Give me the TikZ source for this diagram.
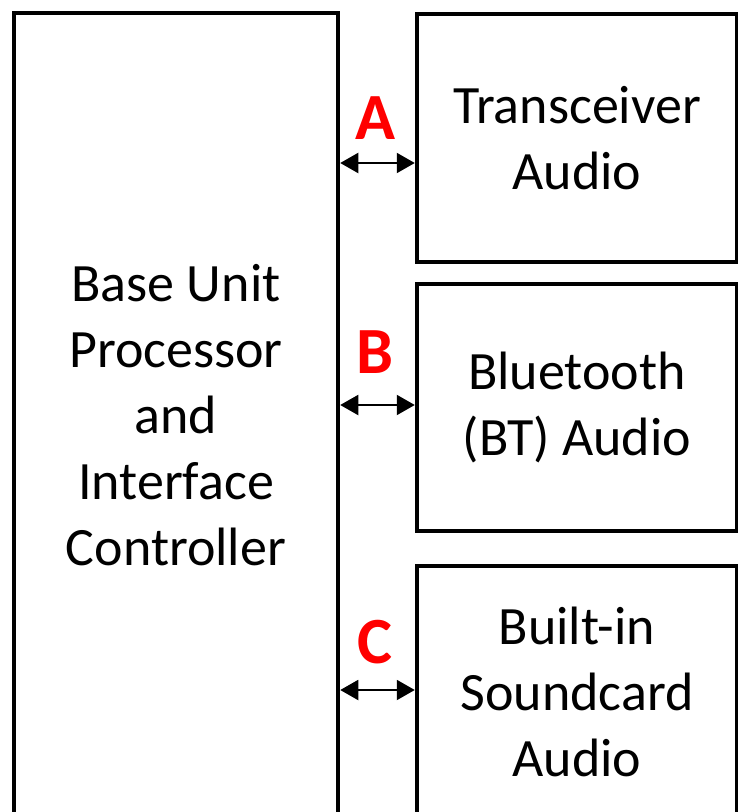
\documentclass[tikz,border=0pt]{standalone}
\usepackage{fontspec}
\setmainfont{Carlito}
\usetikzlibrary{arrows.meta}
\tikzset{every picture/.style={line width=0.75pt}}
\tikzset{
  unit/.style={draw, line width=4.5pt, align=center, inner sep=0pt,
    font=\fontsize{54}{66}\selectfont},
  link/.style={{Triangle[length=18pt,width=20pt]}-{Triangle[length=18pt,width=20pt]}, line width=2pt},
  tag/.style={text=red, font=\fontsize{66}{66}\selectfont\bfseries}
}

\begin{document}
\begin{tikzpicture}[x=1pt,y=-1pt]
\clip (0,0) rectangle (738,812);
\node[unit, minimum width=324pt, minimum height=805pt] (base) at (176,415.5) {Base Unit\\Processor\\and\\Interface\\Controller};
%
\node[unit, minimum width=320pt, minimum height=248pt] (xcvr) at (577,138) {Transceiver\\Audio};
\node[unit, minimum width=320pt, minimum height=247pt] (bt) at (577,407.5) {Bluetooth\\(BT) Audio};
\node[unit, minimum width=320pt, minimum height=252pt] (card) at (577,692) {Built-in\\Soundcard\\Audio};
%
\node[tag] (tagA) at (375,118) {A};
\node[tag] (tagB) at (375,352) {B};
\node[tag] (tagC) at (375,642) {C};
%
\draw[link] ([yshift=-25pt]xcvr.west -| base.east) -- ([yshift=-25pt]xcvr.west);
\draw[link] ([yshift=2.5pt]bt.west -| base.east) -- ([yshift=2.5pt]bt.west);
\draw[link] ([yshift=2pt]card.west -| base.east) -- ([yshift=2pt]card.west);
\end{tikzpicture}
\end{document}
